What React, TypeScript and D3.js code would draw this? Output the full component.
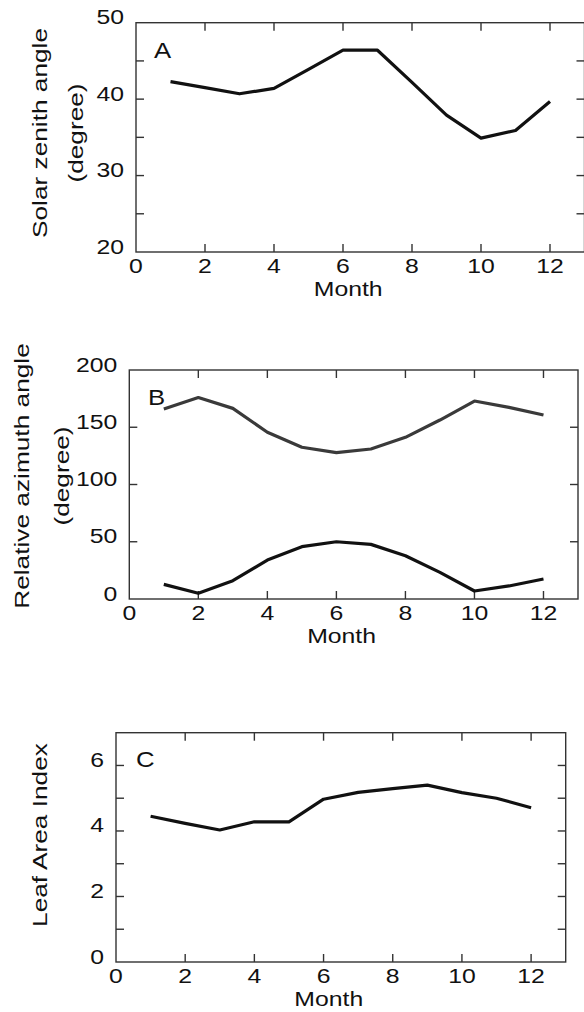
import React from "react";
import * as d3 from "d3";

const months = [1, 2, 3, 4, 5, 6, 7, 8, 9, 10, 11, 12];
const solarZenith = [42.3, 41.5, 40.7, 41.4, 43.9, 46.4, 46.4, 42.2, 37.9, 34.9, 35.9, 39.7];
const azimuthUpper = [166, 176, 166.5, 145.6, 132.5, 127.8, 131, 141.2, 156.3, 172.9, 167.4, 160.7];
const azimuthLower = [12.8, 5.0, 16, 34, 45.7, 50, 47.7, 37.8, 23.3, 7, 11.4, 17.5];
const leafAreaIndex = [4.45, 4.23, 4.03, 4.28, 4.28, 4.97, 5.18, 5.29, 5.4, 5.17, 5.0, 4.71];
const xTickLabels = [0, 2, 4, 6, 8, 10, 12];
const xMinorTicks = [2, 4, 6, 8, 10, 12];

const FONT = "'Liberation Sans', Arial, Helvetica, sans-serif";
const AXIS = "#333";
const FS = 21;
const SX = 1.18; // horizontal text stretch
const SR = 1.25; // rotated text stretch

type Series = { values: number[]; color: string };
type PanelProps = {
  left: number; right: number; top: number; bottom: number;
  yDomain: [number, number];
  yLabels: number[];
  yTicks: number[];
  series: Series[];
  letter: string; letterX: number; letterY: number;
  yTitle: string[]; yTitleX: number[]; yTitleY: number;
};

function Panel(p: PanelProps) {
  const x = d3.scaleLinear().domain([0, 13]).range([p.left, p.right]);
  const y = d3.scaleLinear().domain(p.yDomain).range([p.bottom, p.top]);
  const line = d3.line<number>().x((_, i) => x(months[i])).y((d) => y(d));
  const tl = 8;
  return (
    <g fontFamily={FONT} fill="#111">
      <rect x={p.left} y={p.top} width={p.right - p.left} height={p.bottom - p.top} fill="none" stroke={AXIS} strokeWidth={1.4} />
      {xMinorTicks.map((t) => (
        <g key={"xt" + t}>
          <line x1={x(t)} x2={x(t)} y1={p.top} y2={p.top + tl} stroke={AXIS} strokeWidth={1.4} />
          <line x1={x(t)} x2={x(t)} y1={p.bottom} y2={p.bottom - tl} stroke={AXIS} strokeWidth={1.4} />
        </g>
      ))}
      {p.yTicks.map((t) => (
        <g key={"yt" + t}>
          <line x1={p.left} x2={p.left + tl} y1={y(t)} y2={y(t)} stroke={AXIS} strokeWidth={1.4} />
          <line x1={p.right} x2={p.right - tl} y1={y(t)} y2={y(t)} stroke={AXIS} strokeWidth={1.4} />
        </g>
      ))}
      {xTickLabels.map((t) => (
        <text key={"xl" + t} transform={`translate(${x(t)},${p.bottom + 21}) scale(${SX},1)`} textAnchor="middle" fontSize={FS}>{t}</text>
      ))}
      {p.yLabels.map((t) => (
        <text key={"yl" + t} transform={`translate(${p.left - 12},${y(t) + 1.5}) scale(${SX},1)`} textAnchor="end" fontSize={FS}>{t}</text>
      ))}
      <text transform={`translate(${x(6.15)},${p.bottom + 44}) scale(${SX},1)`} textAnchor="middle" fontSize={FS}>Month</text>
      {p.yTitle.map((s, i) => (
        <text key={"ytt" + i} transform={`translate(${p.yTitleX[i]},${p.yTitleY}) rotate(-90) scale(${SR},1)`} dy="0.35em" textAnchor="middle" fontSize={FS}>{s}</text>
      ))}
      <text transform={`translate(${p.letterX},${p.letterY}) scale(1.12,1)`} fontSize={23}>{p.letter}</text>
      {p.series.map((s, i) => (
        <path key={"s" + i} d={line(s.values) || ""} fill="none" stroke={s.color} strokeWidth={3.2} strokeLinejoin="round" />
      ))}
    </g>
  );
}

export default function App() {
  return (
    <svg width={584} height={1012} style={{ position: "absolute", left: 0, top: 0, background: "#fff" }}>
      <rect x={0} y={0} width={584} height={1012} fill="#fff" />
      <Panel
        left={136} right={584.5} top={22.7} bottom={252}
        yDomain={[20, 50]} yLabels={[20, 30, 40, 50]} yTicks={[25, 30, 35, 40, 45]}
        series={[{ values: solarZenith, color: "#111" }]}
        letter="A" letterX={154} letterY={58}
        yTitle={["Solar zenith angle", "(degree)"]} yTitleX={[40, 76]} yTitleY={133}
      />
      <Panel
        left={129.3} right={578} top={370} bottom={599}
        yDomain={[0, 200]} yLabels={[0, 50, 100, 150, 200]} yTicks={[50, 100, 150]}
        series={[{ values: azimuthUpper, color: "#3a3a3a" }, { values: azimuthLower, color: "#111" }]}
        letter="B" letterX={148} letterY={405}
        yTitle={["Relative azimuth angle", "(degree)"]} yTitleX={[22, 62]} yTitleY={476}
      />
      <Panel
        left={116} right={565.7} top={732.7} bottom={962}
        yDomain={[0, 7]} yLabels={[0, 2, 4, 6]} yTicks={[1, 2, 3, 4, 5, 6]}
        series={[{ values: leafAreaIndex, color: "#111" }]}
        letter="C" letterX={136} letterY={767}
        yTitle={["Leaf Area Index"]} yTitleX={[40]} yTitleY={835}
      />
    </svg>
  );
}
